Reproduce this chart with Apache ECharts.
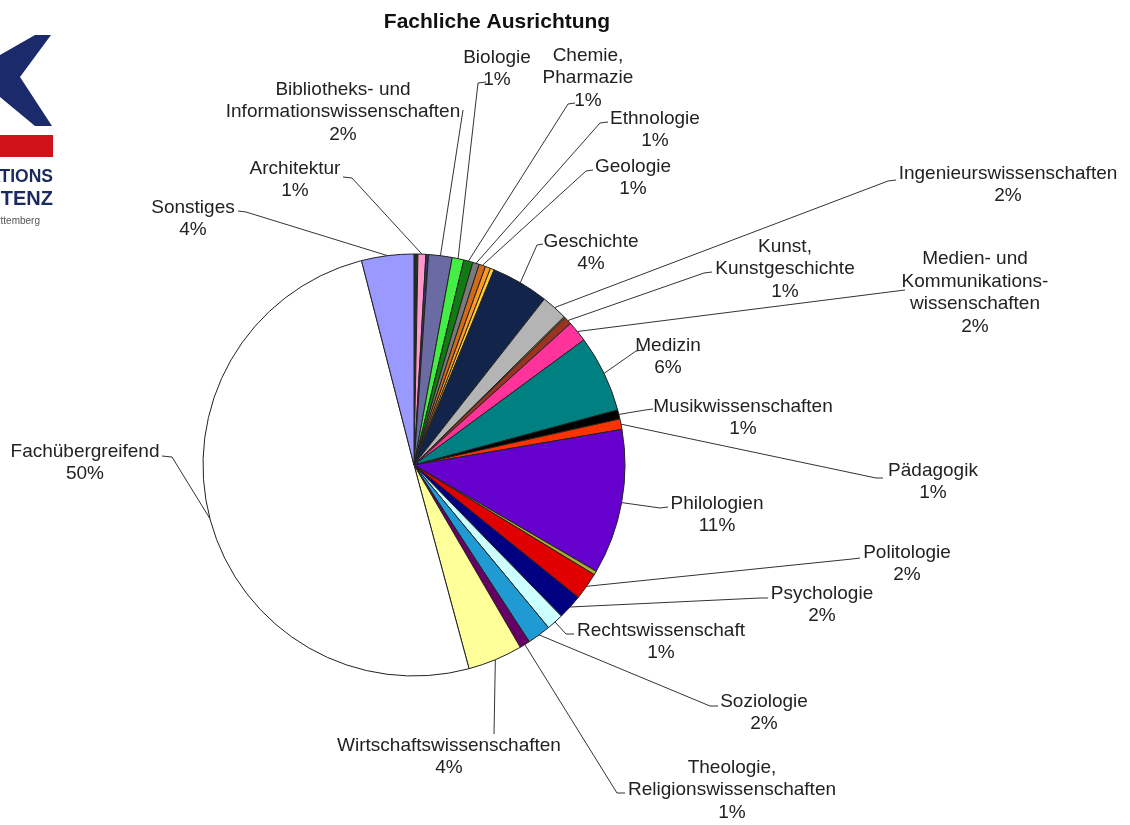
<!DOCTYPE html>
<html><head><meta charset="utf-8">
<script src="https://cdn.jsdelivr.net/npm/echarts/dist/echarts.min.js"></script>
<style>html,body{margin:0;padding:0;background:#fff}#c{width:1130px;height:825px}</style>
</head><body><div id="c"></div>
<script>
// ---- data (clockwise from 12 o'clock) ----
const categories = [
  '', 'Architektur', '', 'Bibliotheks- und\nInformationswissenschaften', 'Biologie',
  'Chemie,\nPharmazie', 'Ethnologie', 'Geologie', '', '',
  'Geschichte', 'Ingenieurswissenschaften', '', 'Kunst,\nKunstgeschichte',
  'Medien- und\nKommunikations-\nwissenschaften', 'Medizin', 'Musikwissenschaften',
  'Pädagogik', 'Philologien', '', 'Politologie', 'Psychologie', 'Rechtswissenschaft',
  'Soziologie', 'Theologie,\nReligionswissenschaften', 'Wirtschaftswissenschaften',
  'Fachübergreifend', 'Sonstiges'
];
const values = [
  0.3, 0.6, 0.2, 1.8, 0.9,
  0.7, 0.5, 0.5, 0.4, 0.3,
  4.4, 2.0, 0.1, 0.6,
  1.6, 5.9, 0.7,
  0.8, 11.1, 0.3, 2.1, 1.9, 1.3,
  1.8, 0.8, 4.2,
  50.2, 4.0
];
const colors = [
  '#1e3322', '#ff99cc', '#333366', '#6b6ba3', '#44ee44',
  '#127a12', '#7a7a7a', '#d06a1c', '#ff9922', '#ffcc33',
  '#13244a', '#b4b4b4', '#a8c040', '#993322',
  '#ff3399', '#008080', '#000000',
  '#ff3300', '#6600cc', '#aaaa33', '#e00000', '#000080', '#ccffff',
  '#1f9ad2', '#660066', '#ffff99',
  '#ffffff', '#9999ff'
];

// ---- label layout (text block centre, leader bend, leader end) ----
const labelLayoutTable = {
  1:  {pos:[295,180], bend:[352,178], anchor:[343,177]},
  3:  {pos:[343,112], bend:[463,110], anchor:[463,110]},
  4:  {pos:[497,69],  bend:[478,83],  anchor:[486,82]},
  5:  {pos:[588,78],  bend:[568,104], anchor:[575,103]},
  6:  {pos:[655,130], bend:[600,123], anchor:[608,122]},
  7:  {pos:[633,178], bend:[586,171], anchor:[593,170]},
  10: {pos:[591,253], bend:[537,245], anchor:[543,244]},
  11: {pos:[1008,185],bend:[888,181], anchor:[896,180]},
  13: {pos:[785,269], bend:[704,273], anchor:[712,272]},
  14: {pos:[975,293], bend:[897,291], anchor:[905,290]},
  15: {pos:[668,357], bend:[636,351], anchor:[643,350]},
  16: {pos:[743,418], bend:[645,410], anchor:[653,409]},
  17: {pos:[933,482], bend:[876,478], anchor:[883,478]},
  18: {pos:[717,515], bend:[660,508], anchor:[668,507]},
  20: {pos:[907,564], bend:[852,559], anchor:[860,558]},
  21: {pos:[822,605], bend:[760,598], anchor:[768,598]},
  22: {pos:[661,642], bend:[566,634], anchor:[574,634]},
  23: {pos:[764,713], bend:[710,706], anchor:[718,706]},
  24: {pos:[732,790], bend:[617,793], anchor:[625,793]},
  25: {pos:[449,757], bend:[494,734], anchor:[494,734]},
  26: {pos:[85,463],  bend:[172,457], anchor:[162,456]},
  27: {pos:[193,219], bend:[246,212], anchor:[238,211]}
};

const seriesData = categories.map((name, i) => {
  const item = {name: name, value: values[i], itemStyle: {color: colors[i]}};
  if (!name) { item.label = {show: false}; item.labelLine = {show: false}; }
  return item;
});

const chart = echarts.init(document.getElementById('c'), null, {renderer: 'canvas'});
chart.setOption({
  backgroundColor: '#ffffff',
  animation: false,
  title: {
    text: 'Fachliche Ausrichtung', left: 492, top: 7, textAlign: 'center',
    textStyle: {fontFamily: 'Liberation Sans, Arial, sans-serif', fontSize: 21, fontWeight: 'bold', color: '#111'}
  },
  graphic: [
    {type: 'polygon', shape: {points: [[35,35],[51,35],[20,77],[52,126],[35,126],[0,97],[0,55]]}, style: {fill: '#1b2a6b'}},
    {type: 'rect', shape: {x: 0, y: 135, width: 53, height: 22}, style: {fill: '#d0121b'}},
    {type: 'text', x: 53, y: 177, style: {text: 'INFORMATIONS', align: 'right', verticalAlign: 'middle', font: 'bold 17.5px "Liberation Sans", Arial', fill: '#1b2a5e'}},
    {type: 'text', x: 53, y: 199, style: {text: 'KOMPETENZ', align: 'right', verticalAlign: 'middle', font: 'bold 20px "Liberation Sans", Arial', fill: '#1b2a5e'}},
    {type: 'text', x: 40, y: 221, style: {text: 'Baden-Württemberg', align: 'right', verticalAlign: 'middle', font: '10px "Liberation Sans", Arial', fill: '#555'}}
  ],
  series: [{
    type: 'pie',
    center: [414, 465],
    radius: 211,
    startAngle: 90,
    clockwise: true,
    avoidLabelOverlap: false,
    emphasis: {disabled: true},
    itemStyle: {borderColor: '#222', borderWidth: 1},
    label: {
      show: true,
      fontFamily: 'Liberation Sans, Arial, sans-serif',
      fontSize: 19, lineHeight: 22.5, color: '#222', align: 'center',
      formatter: p => p.name + '\n' + Math.round(p.percent) + '%'
    },
    labelLine: {show: true, length: 10, length2: 10, lineStyle: {color: '#333', width: 1}},
    labelLayout: function (params) {
      const L = labelLayoutTable[params.dataIndex];
      if (!L) return {};
      const pts = params.labelLinePoints;
      const out = {x: L.pos[0], y: L.pos[1], align: 'center', verticalAlign: 'middle'};
      if (pts) out.labelLinePoints = [pts[0], L.bend, L.anchor];
      return out;
    },
    data: seriesData
  }]
});
</script>
</body></html>
